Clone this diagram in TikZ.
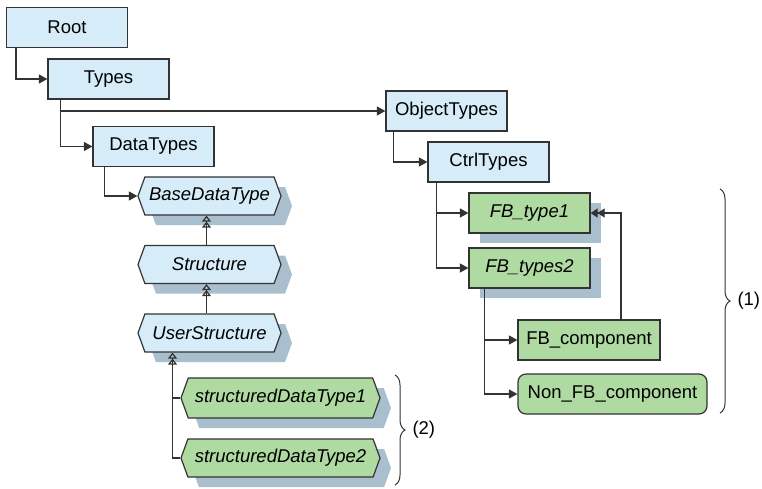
\documentclass[tikz,border=0pt]{standalone}
\usepackage{fontspec}
\setmainfont{Liberation Sans}
\usetikzlibrary{arrows.meta}
\usetikzlibrary{shapes.symbols}
\usetikzlibrary{shadows}
\usetikzlibrary{decorations.pathreplacing}
\definecolor{boxblue}{HTML}{D6EDF9}
\definecolor{boxgreen}{HTML}{AFDAA2}
\definecolor{shade}{HTML}{AABFCE}
\definecolor{edge}{HTML}{333333}
\tikzset{
  folder/.style={rectangle, draw=edge, fill=boxblue, minimum width=121pt,
    minimum height=40pt, inner sep=2pt, font=\fontsize{18.5}{21}\selectfont},
  fbbox/.style={folder, fill=boxgreen},
  shadowed/.style={general shadow={fill=shade, shadow xshift=11pt, shadow yshift=-10pt}},
  typehex/.style={signal, signal to=west and east, signal pointer angle=140,
    draw=edge, fill=boxblue, minimum width=143pt, minimum height=38pt, inner sep=2pt,
    font=\fontsize{18.5}{21}\selectfont\itshape, shadowed},
  inherit/.style={-{Triangle[open,length=6pt,width=9pt]Triangle[open,length=6pt,width=9pt]}},
  ref/.style={-{Triangle[length=7pt,width=9pt]Triangle[length=7pt,width=9pt]}},
  brace/.style={decorate, decoration={brace, amplitude=10pt}, line width=1pt}
}
\begin{document}
\begin{tikzpicture}[x=1pt, y=-1pt, line width=1.2pt, draw=edge,
    >={Triangle[length=8.5pt,width=9pt]}]
  \useasboundingbox (0,0) rectangle (762,488);

  % folders
  \node [folder] (root) at (67,27.5) {Root};
  \node [folder] (types) at (108.5,79) {Types};
  \node [folder] (datatypes) at (153.5,146.5) {DataTypes};
  \node [folder] (objtypes) at (446.5,111) {ObjectTypes};
  \node [folder] (ctrltypes) at (488.5,162) {CtrlTypes};

  \path[->] ([xshift=10pt]root.south west) edge[to path={|- (\tikztotarget)}] (types.west);
  \path[->] ([xshift=13pt]types.south west) edge[to path={|- (\tikztotarget)}] (datatypes.west);
  \path[->] ([xshift=13pt]types.south west) edge[to path={|- (\tikztotarget)}] (objtypes.west);
  \path[->] ([xshift=8pt]objtypes.south west) edge[to path={|- (\tikztotarget)}] (ctrltypes.west);

  % data types
  \node [typehex] (basedt) at (209.5,196) {BaseDataType};
  \node [typehex] (structure) at (209.5,264.5) {Structure};
  \node [typehex] (userstruct) at (209.5,333) {UserStructure};
  \node [typehex, fill=boxgreen, minimum width=199pt, minimum height=40pt] (sdt1) at (280.5,398) {structuredDataType1};
  \node [typehex, fill=boxgreen, minimum width=199pt] (sdt2) at (280.5,458) {structuredDataType2};
  \coordinate (usfoot) at ([xshift=28pt]userstruct.south west);

  \draw[->] ([xshift=12pt]datatypes.south west) |- (basedt.west);
  \draw[inherit] ([xshift=-3pt]structure.north) -- ([xshift=-3pt]basedt.south);
  \draw[inherit] ([xshift=-3pt]userstruct.north) -- ([xshift=-3pt]structure.south);
  \draw[inherit] (sdt2.west) -| (usfoot);
  \draw (sdt1.west) -- (sdt1.west -| usfoot);

  % function blocks
  \node [fbbox, shadowed, font=\fontsize{18.5}{21}\selectfont\itshape] (fbtype1) at (529.5,213) {FB\_type1};
  \node [fbbox, shadowed, font=\fontsize{18.5}{21}\selectfont\itshape] (fbtypes2) at (529.5,268) {FB\_types2};
  \node [fbbox, minimum width=142pt] (fbcomp) at (589,340) {FB\_component};
  \node [fbbox, minimum width=189pt, rounded corners=8pt] (nonfb) at (612.5,394) {Non\_FB\_component};

  \draw[->] ([xshift=9pt]ctrltypes.south west) |- (fbtype1.west);
  \draw[->] ([xshift=9pt]ctrltypes.south west) |- (fbtypes2.west);
  \draw[->] ([xshift=16pt]fbtypes2.south west) |- (fbcomp.west);
  \draw[->] ([xshift=16pt]fbtypes2.south west) |- (nonfb.west);
  \draw[ref] ([xshift=32pt]fbcomp.north) |- (fbtype1.east);

  % groups
  \coordinate (b1top) at (720,189);
  \coordinate (b1bot) at (720,413);
  \coordinate (b2top) at (395,375);
  \coordinate (b2bot) at (395,485);
  \draw[brace] (b1top) -- node[right=16pt, inner sep=1pt, font=\fontsize{18.5}{21}\selectfont] (lab1) {(1)} (b1bot);
  \draw[brace] (b2top) -- node[right=16pt, inner sep=1pt, font=\fontsize{18.5}{21}\selectfont] (lab2) {(2)} (b2bot);
\end{tikzpicture}
\end{document}
